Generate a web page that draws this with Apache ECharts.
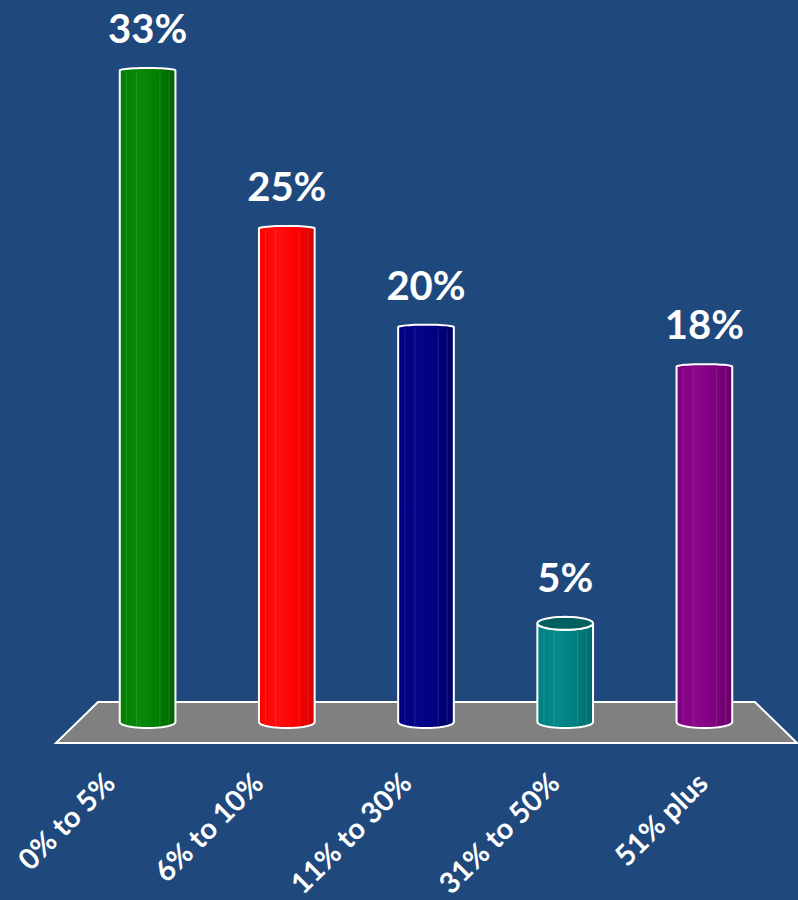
<!DOCTYPE html>
<html>
<head>
<meta charset="utf-8">
<script src="https://cdn.jsdelivr.net/npm/echarts@6/dist/echarts.min.js"></script>
<style>
  html, body { margin: 0; padding: 0; background: #1F497D; }
  #chart { width: 798px; height: 900px; }
</style>
</head>
<body>
<div id="chart"></div>
<script>
// Share of respondents by percentage band
const categories = ['0% to 5%', '6% to 10%', '11% to 30%', '31% to 50%', '51% plus'];
const values = [33, 25, 20, 5, 18];

// Cylinder colours: face base, lighter highlight, shaded edge, lid
const palette = [
  { base: '#008000', light: '#0a8a0a', dark: '#006400', lid: '#006000' },
  { base: '#ff0000', light: '#ff1010', dark: '#d40000', lid: '#c00000' },
  { base: '#000080', light: '#05058a', dark: '#000066', lid: '#000060' },
  { base: '#008080', light: '#078a8a', dark: '#006a6a', lid: '#006060' },
  { base: '#800080', light: '#8a088a', dark: '#6a006a', lid: '#600060' }
];

// Layout of the plot area and the grey floor it stands on
const plot = { left: 78, right: 24, top: 31, bottom: 178 };
const front = { left: 56, right: 1, y: 743 };
const back = { left: 98, right: 755, y: 702 };
const W = 798, H = 900;

function ellipsePts(cx, cy, rx, ry, a0, a1, n) {
  const pts = [];
  for (let k = 0; k <= n; k++) {
    const t = a0 + (a1 - a0) * k / n;
    pts.push([cx + rx * Math.cos(t), cy + ry * Math.sin(t)]);
  }
  return pts;
}

function renderCylinder(params, api) {
  const i = api.value(0);
  const v = api.value(1);
  const topPt = api.coord([i, v]);
  const botPt = api.coord([i, 0]);
  const rx = api.size([1, 0])[0] * 0.2;
  const cx = topPt[0];
  const yt = topPt[1];
  const yb = botPt[1];
  const c = palette[i];

  const capRy = Math.max(0, Math.min(7, (yt - 520) / 16));
  const baseRy = 6;

  // outline of the body: left side, front half of the base, right side, top edge
  let pts = [[cx - rx, yt]];
  pts = pts.concat(ellipsePts(cx, yb, rx, baseRy, Math.PI, 0, 24));
  if (capRy > 0) {
    pts = pts.concat(ellipsePts(cx, yt, rx, capRy, 0, Math.PI, 24));
  } else {
    pts = pts.concat(ellipsePts(cx, yt, rx, 2.5, 0, -Math.PI, 24));
  }

  const children = [{
    type: 'polygon',
    shape: { points: pts },
    style: {
      fill: {
        type: 'linear', x: 0, y: 0, x2: 1, y2: 0,
        colorStops: [
          { offset: 0, color: c.base },
          { offset: 0.35, color: c.light },
          { offset: 0.65, color: c.base },
          { offset: 1, color: c.dark }
        ]
      },
      stroke: '#ffffff',
      lineWidth: 2
    }
  }];

  // faint facet lines running down the body
  [0.12, 0.3, 0.72, 0.88].forEach(f => {
    const x = cx - rx + 2 * rx * f;
    children.push({
      type: 'line',
      shape: { x1: x, y1: yt + (capRy > 0 ? capRy : 0) + 2, x2: x, y2: yb + 3 },
      style: { stroke: 'rgba(255,255,255,0.12)', lineWidth: 1 }
    });
  });

  if (capRy > 0) {
    children.push({
      type: 'polygon',
      shape: { points: ellipsePts(cx, yt, rx, capRy, 0, 2 * Math.PI, 48) },
      style: { fill: c.lid, stroke: '#ffffff', lineWidth: 2 }
    });
  }

  const lift = capRy > 0 ? capRy : 2.5;
  children.push({
    type: 'text',
    style: {
      x: cx, y: yt - lift - 40,
      text: v + '%',
      fill: '#ffffff',
      font: 'bold 40px Lato',
      align: 'center',
      verticalAlign: 'middle'
    }
  });

  return { type: 'group', children: children };
}

const chart = echarts.init(document.getElementById('chart'), null, { renderer: 'svg', width: W, height: H });

chart.setOption({
  backgroundColor: '#1F497D',
  animation: false,
  grid: [
    { left: plot.left, right: plot.right, top: plot.top, bottom: plot.bottom },
    { left: front.left, right: front.right, top: front.y - 40, bottom: H - front.y }
  ],
  xAxis: [
    { type: 'category', gridIndex: 0, data: categories, show: false },
    {
      type: 'category', gridIndex: 1, data: categories,
      axisLine: { show: false }, axisTick: { show: false }, splitLine: { show: false },
      axisLabel: {
        interval: 0, rotate: 45, margin: 34,
        color: '#ffffff', fontFamily: 'Lato', fontWeight: 'bold', fontSize: 29,
        padding: [0, 30, 0, 0]
      }
    }
  ],
  yAxis: [
    { type: 'value', gridIndex: 0, min: 0, max: 35, show: false },
    { type: 'value', gridIndex: 1, show: false }
  ],
  graphic: [{
    type: 'polygon',
    z: -10,
    shape: {
      points: [
        [back.left, back.y], [back.right, back.y],
        [W - front.right, front.y], [front.left, front.y]
      ]
    },
    style: { fill: '#808080', stroke: '#ffffff', lineWidth: 2 }
  }],
  series: [{
    type: 'custom',
    xAxisIndex: 0, yAxisIndex: 0,
    z: 10,
    renderItem: renderCylinder,
    encode: { x: 0, y: 1 },
    data: categories.map((c, i) => [i, values[i]])
  }]
});
</script>
</body>
</html>
